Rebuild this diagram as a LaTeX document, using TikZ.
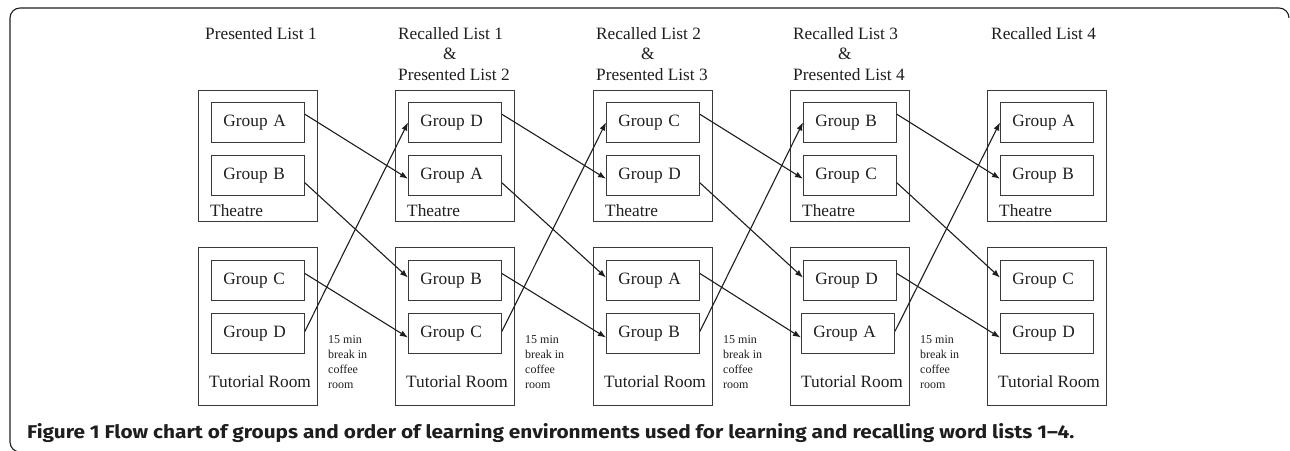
\documentclass[tikz,border=0pt]{standalone}
\usepackage{fontspec}
\setmainfont{Liberation Serif}
\newfontfamily\capfont{Fira Sans}
\usetikzlibrary{arrows.meta,calc}
\definecolor{ink}{HTML}{1E1E1E}
\definecolor{boxline}{HTML}{3A3A3A}
\begin{document}
\begin{tikzpicture}[x=1pt,y=-1pt,
  outerbox/.style={draw=boxline,line width=0.9pt},
  grp/.style={draw=boxline,line width=0.9pt,rectangle,minimum height=40pt,text width=69pt,inner xsep=12pt,inner ysep=0pt,align=left,anchor=north west,font=\fontsize{17.3}{20}\selectfont,text=ink},
  lbl/.style={anchor=base west,inner sep=0pt,font=\fontsize{17.3}{20}\selectfont,text=ink},
  hdr/.style={anchor=base west,inner sep=0pt,font=\fontsize{17.3}{20}\selectfont,text=ink},
  brk/.style={anchor=base west,inner sep=0pt,font=\fontsize{12}{15}\selectfont,text=ink},
  flow/.style={draw=ink,line width=1.1pt,-{Latex[length=8pt,width=6pt]}},
  frame/.style={draw=ink,line width=1.1pt,rounded corners=10pt}]
\useasboundingbox (0,0) rectangle (1290,450);
% outer frame
\draw[frame] (1289,18) -- (1289,8) -- (10,8) -- (10,452) -- (24,452);
% columns
\foreach \k/\x/\a/\b/\c/\d/\s in {1/198/A/B/C/D/13, 2/395/D/A/B/C/13, 3/593/C/D/A/B/13, 4/790/B/C/D/A/11, 5/987/A/B/C/D/13} {
  \draw[outerbox] (\x,90) rectangle ++(119,131);
  \draw[outerbox] (\x,247) rectangle ++(119,158);
  \node[grp] (t1\k) at (\x+13,102) {Group \a};
  \node[grp] (t2\k) at (\x+13,155) {Group \b};
  \node[grp] (u1\k) at (\x+13,260) {Group \c};
  \node[grp] (u2\k) at (\x+\s,313) {Group \d};
  \node[lbl] (th\k) at (\x+12,216) {Theatre};
  \node[lbl] (tr\k) at (\x+11,387) {Tutorial Room};
}
% headers
\node[hdr] (h1) at (205,39) {Presented List 1};
\foreach \k/\x [evaluate=\k as \p using int(\k-1)] in {2/395,3/593,4/790} {
  \node[hdr] (hr\k) at (\x+3,39) {Recalled List \p};
  \node[hdr] (ha\k) at (\x+48,59.5) {\&};
  \node[hdr] (hp\k) at (\x+3,80) {Presented List \k};
}
\node[hdr] (h5) at (991,39) {Recalled List 4};
% breaks
\foreach \k/\x in {1/198,2/395,3/593,4/790} {
  \node[brk] (ba\k) at (\x+130,343) {15 min};
  \node[brk] (bb\k) at (\x+130,358) {break in};
  \node[brk] (bc\k) at (\x+130,373) {coffee};
  \node[brk] (bd\k) at (\x+130,388) {room};
}
% arrows
\foreach \k [evaluate=\k as \n using int(\k+1)] in {1,2,3,4} {
  \draw[flow] ($(t1\k.north east)!0.3!(t1\k.south east)$) -- ($(t2\n.north west)!0.58!(t2\n.south west)$);
  \draw[flow] ($(t2\k.north east)!0.68!(t2\k.south east)$) -- ($(u1\n.north west)!0.43!(u1\n.south west)$);
  \draw[flow] ($(u1\k.north east)!0.33!(u1\k.south east)$) -- ($(u2\n.north west)!0.6!(u2\n.south west)$);
  \draw[flow] ($(u2\k.north east)!0.45!(u2\k.south east)$) -- ($(t1\n.north west)!0.5!(t1\n.south west)$);
}
% caption
\node[anchor=base west,inner sep=0pt,text=ink,xscale=1.125,transform shape,font=\capfont\bfseries\fontsize{18.5}{20}\selectfont] (cap) at (27,438) {Figure 1 Flow chart of groups and order of learning environments used for learning and recalling word lists 1–4.};
\end{tikzpicture}
\end{document}
